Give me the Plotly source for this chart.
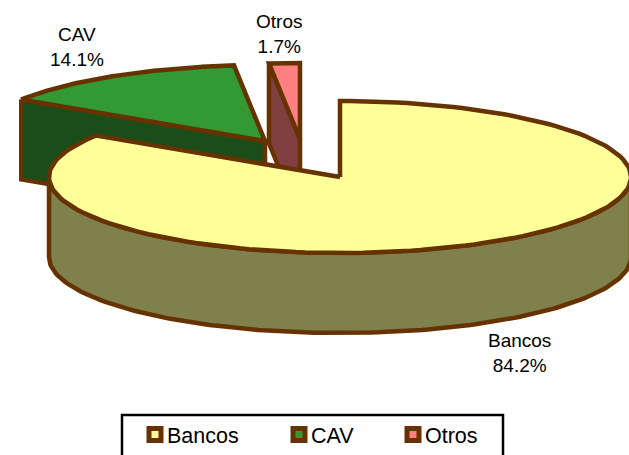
import numpy as np
import plotly.graph_objects as go

# Data
categories = ["Bancos", "CAV", "Otros"]
shares = [84.2, 14.1, 1.7]

# Styles
top_colors = ["#FFFF99", "#339933", "#FF8080"]
side_colors = ["#80804D", "#1A4D1A", "#804040"]
outline = "#663300"
LW = 4.5

# Projection of the tilted disc onto the axes
CX, CY, RX, RY, DEPTH = 340, 177, 291, 76, 80
offsets = {"Bancos": (0, 0), "CAV": (-75, -36), "Otros": (-40, -38)}

W, H = 629, 455
fig = go.Figure()


def rim(a0, a1, ox, oy, n=160):
    t = np.radians(np.linspace(a0, a1, n))
    return CX + ox + RX * np.sin(t), CY + oy - RY * np.cos(t)


def poly(x, y, color):
    fig.add_trace(go.Scatter(
        x=list(x), y=list(y), mode="lines", fill="toself", fillcolor=color,
        line=dict(color=outline, width=LW), hoverinfo="skip", showlegend=False))


# slice angles, clockwise from 12 o'clock
edges = np.concatenate([[0], np.cumsum(shares)]) / sum(shares) * 360
spans = {c: (edges[i], edges[i + 1]) for i, c in enumerate(categories)}

# back-to-front: CAV, Otros, Bancos
for name in ["CAV", "Otros", "Bancos"]:
    i = categories.index(name)
    a0, a1 = spans[name]
    ox, oy = offsets[name]
    ax, ay = CX + ox, CY + oy
    if name == "Bancos":
        # outer wall visible on the front half of the disc
        x, y = rim(90, 270, ox, oy)
        poly(np.r_[x, x[::-1], x[0]], np.r_[y, y[::-1] + DEPTH, y[0]], side_colors[i])
    else:
        # the radial cut facing the viewer
        ex, ey = rim(a0, a0, ox, oy, 1)
        poly([ex[0], ax, ax, ex[0], ex[0]],
             [ey[0], ay, ay + DEPTH, ey[0] + DEPTH, ey[0]], side_colors[i])
    x, y = rim(a0, a1, ox, oy)
    poly(np.r_[ax, x, ax], np.r_[ay, y, ay], top_colors[i])

# Legend entries, one legend per entry to keep the reference's spacing
legend_x = [127, 271, 385]
legend_ids = ["legend", "legend2", "legend3"]
for i, c in enumerate(categories):
    fig.add_trace(go.Scatter(
        x=[None], y=[None], mode="markers", name=c, legend=legend_ids[i],
        marker=dict(symbol="square", size=12, color=top_colors[i],
                    line=dict(color=outline, width=5))))

legend_common = dict(orientation="h", xanchor="left", yanchor="bottom", y=0,
                     bgcolor="rgba(0,0,0,0)", itemwidth=30, itemclick=False,
                     itemdoubleclick=False,
                     font=dict(family="Liberation Sans", size=21.5, color="black"))

# Data labels
label_pos = {"Bancos": (519, 353), "CAV": (77, 47), "Otros": (279, 34)}
annotations = [
    dict(x=label_pos[c][0], y=label_pos[c][1], xref="x", yref="y",
         text=f"{c}<br>{s:.1f}%", showarrow=False, align="center",
         font=dict(family="Liberation Sans", size=19, color="black"))
    for c, s in zip(categories, shares)
]

fig.update_layout(
    width=W, height=H, margin=dict(l=0, r=0, t=0, b=0),
    paper_bgcolor="white", plot_bgcolor="white",
    xaxis=dict(range=[0, W], visible=False, fixedrange=True),
    yaxis=dict(range=[H, 0], visible=False, fixedrange=True),
    annotations=annotations,
    legend=dict(x=legend_x[0] / W, **legend_common),
    legend2=dict(x=legend_x[1] / W, **legend_common),
    legend3=dict(x=legend_x[2] / W, **legend_common),
    shapes=[dict(type="rect", xref="paper", yref="paper",
                 x0=122 / W, x1=503 / W, y0=-0.05, y1=1 - 415 / H,
                 line=dict(color="black", width=2.5), fillcolor="rgba(0,0,0,0)")],
)

post = """
document.body.style.margin = '0';
document.documentElement.style.overflow = 'hidden';
document.querySelectorAll('.legendpoints').forEach(function (g) {
  g.setAttribute('transform', 'translate(8,0)');
});
"""
fig.write_html("out.html", config=dict(displayModeBar=False), post_script=post)
